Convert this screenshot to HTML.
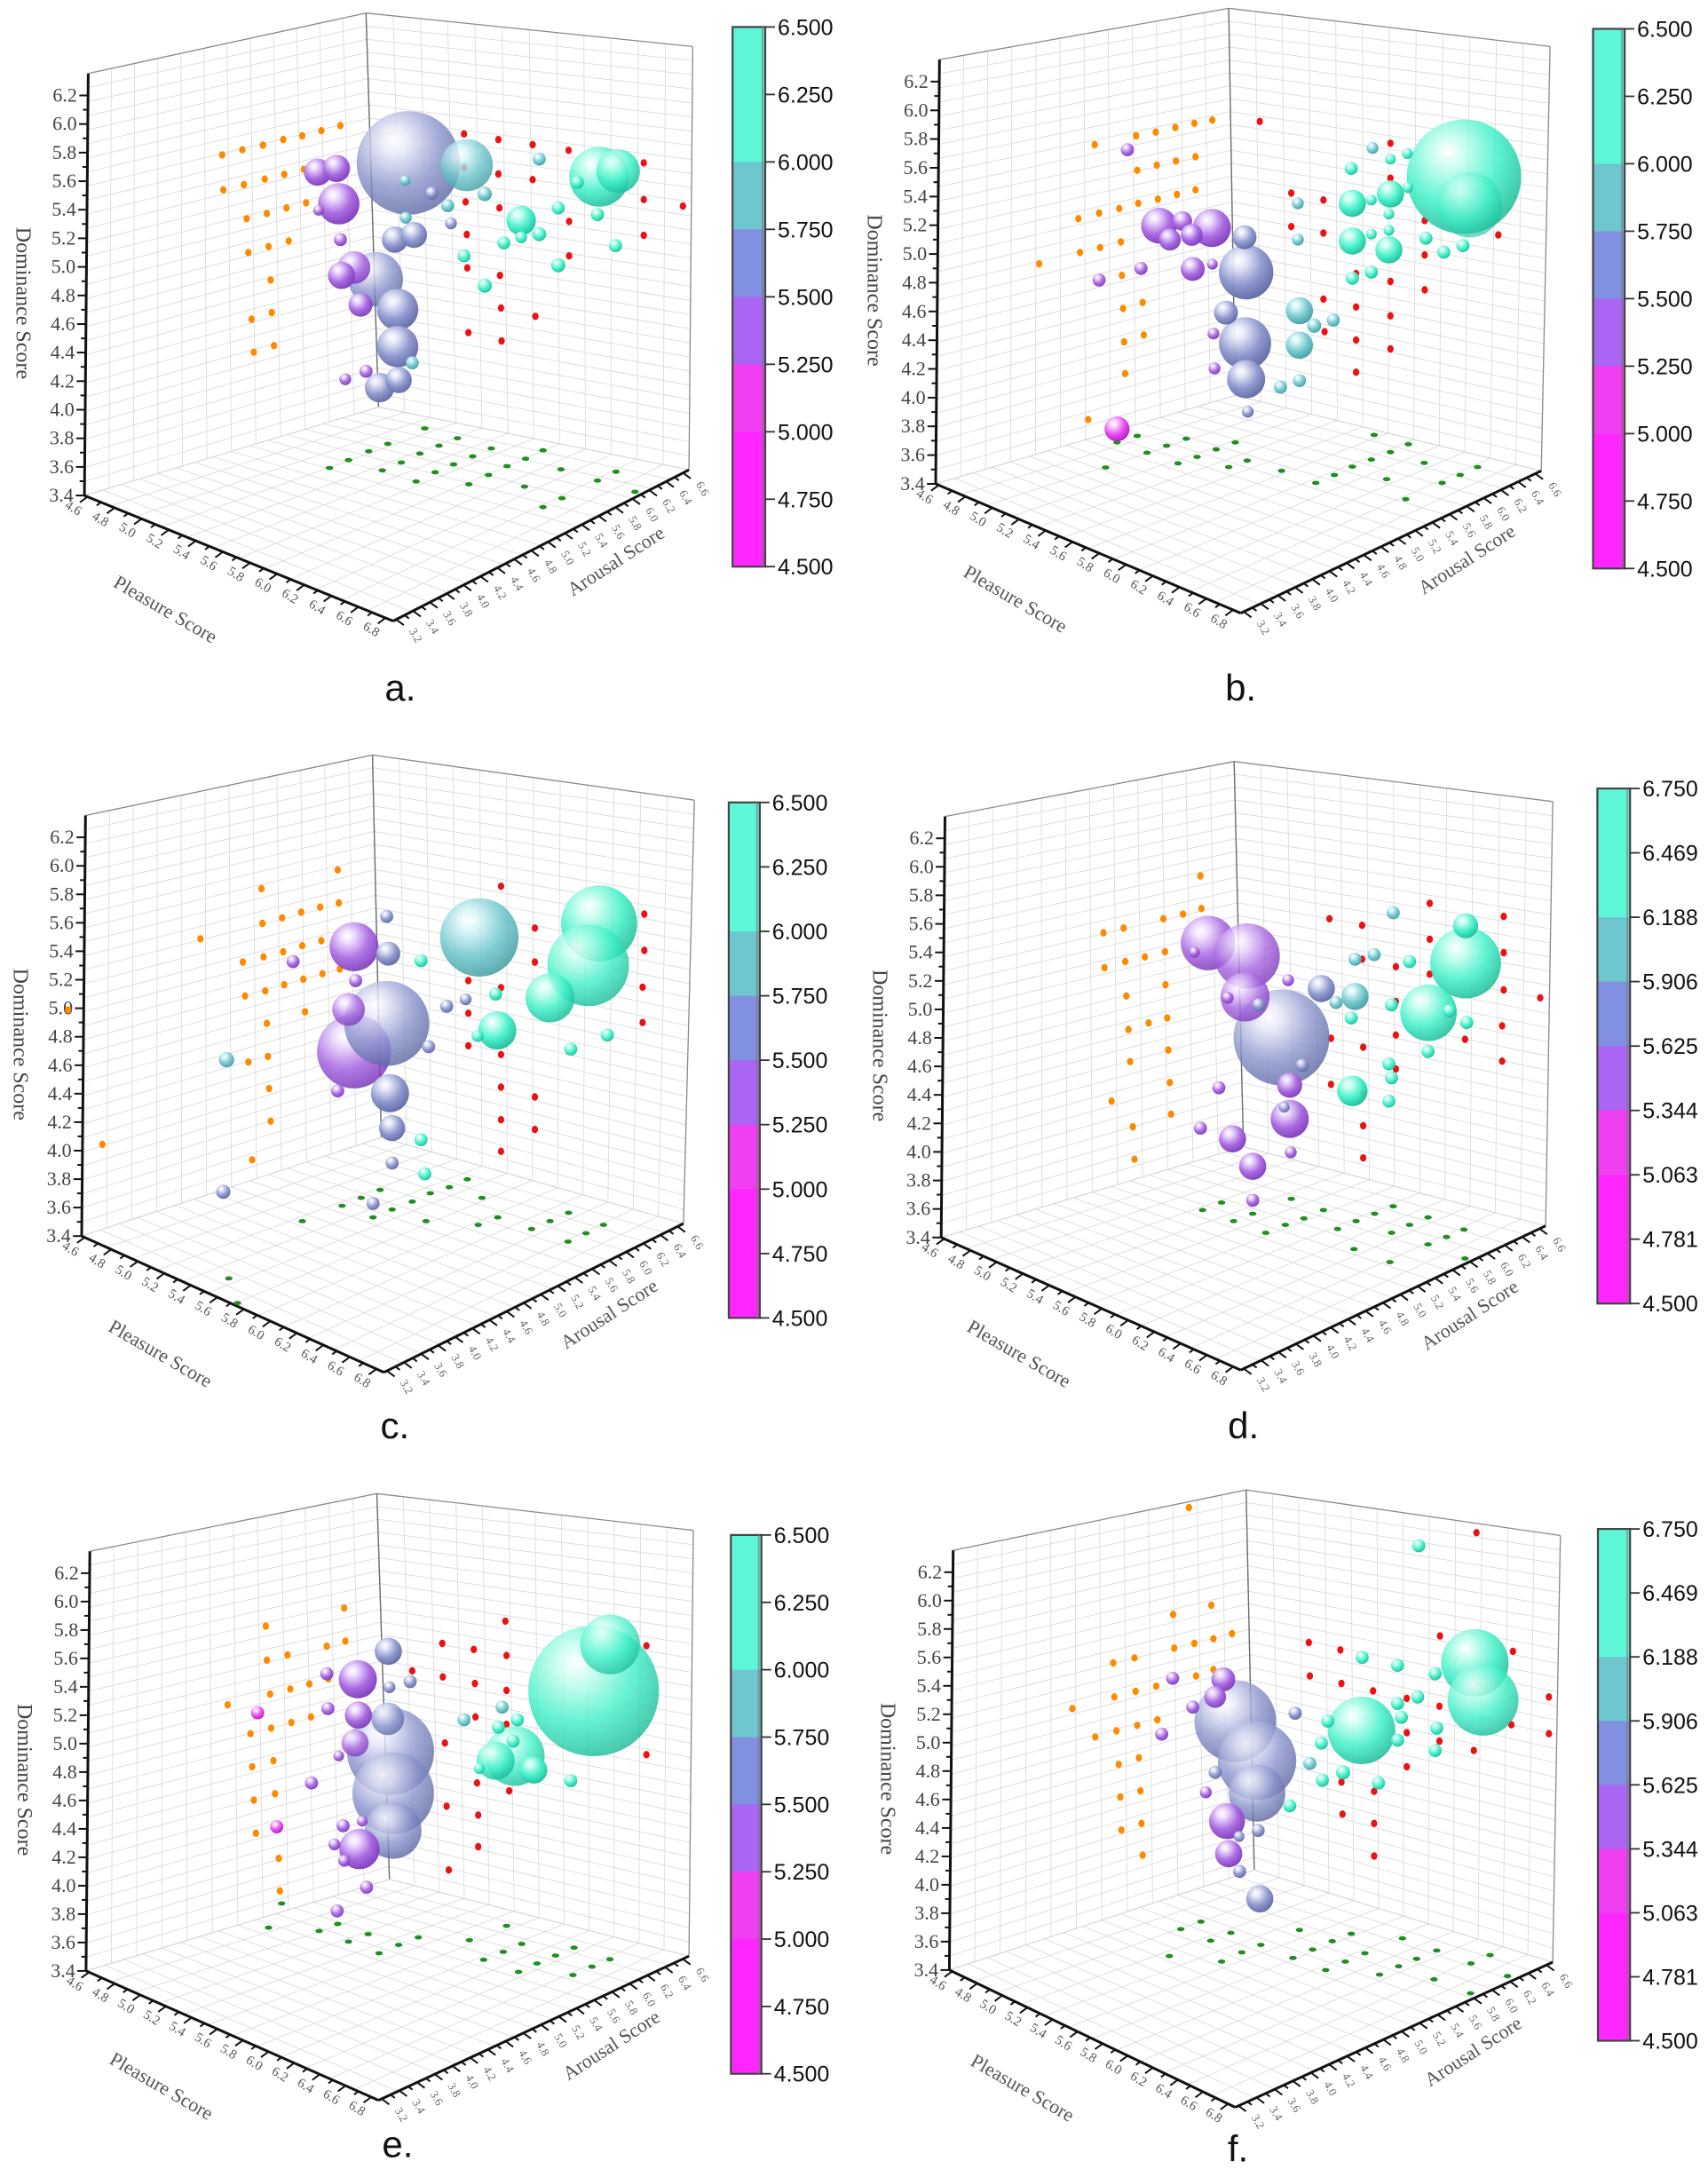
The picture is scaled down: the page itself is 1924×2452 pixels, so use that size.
<!DOCTYPE html>
<html><head><meta charset="utf-8">
<style>
html,body{margin:0;padding:0;background:#fff;}
svg{display:block;}
</style></head>
<body>
<svg id="s" xmlns="http://www.w3.org/2000/svg" width="1924" height="2452" viewBox="0 0 1924 2452">
<defs id="defs"></defs>
</svg>
<script>
(function(){
var NS="http://www.w3.org/2000/svg";
var svg=document.getElementById('s'), defs=document.getElementById('defs');
var SX=0.6135, SY=0.524;
function el(tag,attrs,parent,txt){var e=document.createElementNS(NS,tag);for(var k in attrs)e.setAttribute(k,attrs[k]);if(txt!==undefined)e.textContent=txt;(parent||svg).appendChild(e);return e;}
var COL=[["#3ff0c8","#c8fff0","#18b896"],["#6ec6cc","#d8f6f8","#3e9aa2"],["#8a94cc","#e6e8f8","#5a64a0"],["#a664e0","#eedcff","#7a36b8"],["#e444ee","#ffd6ff","#b010c0"]];
COL.forEach(function(c,i){
  var g=el('radialGradient',{id:'g'+i,cx:'0.38',cy:'0.32',r:'0.72',fx:'0.36',fy:'0.28'},defs);
  el('stop',{offset:'0','stop-color':'#ffffff'},g);
  el('stop',{offset:'0.18','stop-color':c[1]},g);
  el('stop',{offset:'0.6','stop-color':c[0]},g);
  el('stop',{offset:'1','stop-color':c[2]},g);
});
function lerp(a,b,t){return [a[0]+(b[0]-a[0])*t,a[1]+(b[1]-a[1])*t];}
var panels=[
 {ox:0,oy:0,L:[162,158],Lb:[155,1065],B:[672,28],Bb:[695,875],R:[1272,100],Rb:[1265,1010],F:[722,1335],cb:[1345,1405,58,1218],lab:"a.",lp:[735,1479],vals:["6.500","6.250","6.000","5.750","5.500","5.250","5.000","4.750","4.500"],
  sp:[[750,350,95,2,.8],[857,355,48,1,.8],[1100,380,55,0,.85],[1135,368,40,0,.85],[690,600,50,2,.8],[730,665,38,2],[730,745,38,2],[697,833,27,2],[732,817,24,2],[725,515,24,2],[760,505,24,2],[622,438,38,3],[583,370,25,3],[618,362,25,3],[650,575,30,3,.85],[627,592,25,3],[662,655,22,3],[957,474,27,0],[585,452,10,3],[625,515,12,3],[634,815,11,3],[672,798,12,3],[828,480,11,2],[793,415,12,2],[890,417,13,1],[822,442,12,1],[990,342,12,1],[1060,392,12,0],[1025,447,12,0],[1097,461,12,0],[990,503,13,0],[957,510,11,0],[925,522,12,0],[852,550,12,0],[1130,528,12,0],[1025,570,13,0],[890,614,13,0],[745,468,11,1],[744,388,10,1],[757,780,12,1]],
  or:[[408,333],[445,322],[483,312],[520,300],[555,292],[590,281],[625,270],[410,408],[448,397],[486,385],[522,375],[558,364],[453,470],[490,459],[526,447],[562,436],[456,543],[493,530],[530,518],[497,602],[462,686],[499,672],[466,757],[503,743]],
  rd:[[852,288],[915,300],[978,311],[1044,323],[1182,350],[852,360],[915,374],[978,386],[855,434],[917,447],[1045,476],[1182,429],[1254,443],[857,504],[1182,506],[858,576],[918,592],[1045,550],[920,662],[983,680],[860,715],[921,733]],
  gr:[[780,921],[712,954],[806,958],[840,942],[677,970],[771,975],[868,981],[902,964],[997,968],[640,989],[737,994],[833,998],[931,1002],[965,986],[605,1006],[702,1011],[799,1015],[897,1021],[1030,1009],[1131,1014],[764,1035],[861,1041],[963,1046],[1097,1033],[1166,1057],[1032,1071],[997,1090]]},
 {ox:962,oy:0,L:[157,128],Lb:[150,1040],B:[688,18],Bb:[700,850],R:[1278,100],Rb:[1262,1012],F:[710,1318],cb:[1357,1415,62,1222],lab:"b.",lp:[710,1479],vals:["6.500","6.250","6.000","5.750","5.500","5.250","5.000","4.750","4.500"],
  sp:[[1120,380,105,0,.85],[1130,440,60,0,.6],[720,585,50,2],[718,738,48,2],[720,815,35,2],[985,417,25,0],[915,437,25,0],[915,518,25,0],[982,537,25,0],[818,668,25,1],[818,742,25,1],[560,485,33,3],[657,490,35,3],[603,475,18,3],[580,515,20,3],[620,505,20,3],[622,578,22,3],[717,510,22,2],[683,672,22,2],[483,922,23,4],[913,362,12,0],[985,342,10,0],[1016,330,10,0],[1017,403,10,0],[950,430,10,0],[982,460,10,0],[982,495,10,0],[950,503,10,0],[1050,512,12,0],[1083,542,12,0],[1118,528,12,0],[950,585,12,0],[915,598,12,0],[952,318,11,1],[815,437,11,1],[815,515,11,1],[845,700,13,1],[880,688,12,1],[818,818,12,1],[783,832,12,1],[723,885,11,2],[658,568,10,3],[527,577,12,3],[450,602,12,3],[660,717,11,3],[662,792,11,3],[502,322,12,3]],
  or:[[442,311],[518,292],[554,284],[590,274],[625,265],[658,258],[520,366],[556,355],[591,346],[627,337],[412,470],[450,458],[487,448],[522,437],[558,428],[593,418],[627,408],[340,567],[415,543],[452,532],[490,520],[492,592],[494,663],[530,650],[496,735],[532,720],[498,803],[430,902]],
  rd:[[745,261],[985,308],[985,383],[803,415],[862,430],[803,487],[862,501],[1048,474],[1183,505],[1048,548],[922,588],[985,605],[1048,623],[862,643],[922,660],[985,679],[864,713],[922,731],[985,750],[922,800]],
  gr:[[483,951],[520,937],[538,973],[574,958],[610,943],[462,1005],[595,996],[630,982],[665,966],[700,951],[688,1004],[722,990],[785,1012],[848,1038],[882,1021],[915,1003],[950,988],[985,972],[1018,955],[955,935],[978,1030],[1047,995],[1080,1038],[1113,1021],[1145,1004],[1013,1073]]},
 {ox:0,oy:820,L:[157,188],Lb:[150,1092],B:[684,58],Bb:[700,880],R:[1275,155],Rb:[1255,1065],F:[705,1385],cb:[1338,1395,160,1268],lab:"c.",lp:[725,1500],vals:["6.500","6.250","6.000","5.750","5.500","5.250","5.000","4.750","4.500"],
  sp:[[880,450,72,1,.85],[1100,420,70,0,.85],[1080,510,75,0,.8],[1010,580,45,0,.85],[650,695,68,3,.85],[710,635,78,2,.8],[650,470,45,3,.9],[913,650,35,0],[716,785,35,2],[640,605,30,3,.8],[720,860,24,2],[713,485,22,2],[1048,690,12,0],[1115,660,12,0],[877,662,11,0],[910,572,12,0],[773,885,12,0],[780,958,12,0],[773,500,12,0],[416,713,14,1],[710,405,12,2],[820,598,12,2],[855,583,11,2],[787,685,12,2],[720,935,12,2],[685,1022,12,2],[410,997,13,2],[538,502,12,3],[653,543,12,3],[620,780,12,3]],
  or:[[480,345],[620,305],[368,453],[482,420],[518,408],[553,396],[588,385],[622,376],[446,503],[484,492],[520,481],[555,468],[590,457],[624,518],[450,576],[487,565],[522,552],[557,540],[592,528],[125,606],[560,610],[490,635],[456,718],[492,706],[494,775],[497,845],[463,928],[188,895]],
  rd:[[920,340],[1183,400],[982,430],[1183,478],[982,503],[860,543],[920,558],[1180,557],[860,613],[1180,633],[860,683],[920,702],[920,772],[982,793],[920,842],[982,863],[920,910]],
  gr:[[858,970],[825,987],[698,993],[790,1000],[663,1010],[757,1018],[885,1010],[628,1027],[720,1035],[685,1052],[914,1052],[1044,1042],[555,1060],[782,1060],[878,1068],[1010,1060],[976,1077],[1108,1068],[1076,1086],[1043,1104],[420,1183],[436,1236]]},
 {ox:962,oy:820,L:[167,190],Lb:[160,1095],B:[698,72],Bb:[715,900],R:[1283,158],Rb:[1270,1070],F:[710,1380],cb:[1365,1425,130,1237],lab:"d.",lp:[715,1500],vals:["6.750","6.469","6.188","5.906","5.625","5.344","5.063","4.781","4.500"],
  sp:[[785,665,88,2,.8],[650,462,50,3,.85],[722,490,60,3,.8],[718,578,45,3,.8],[1123,505,65,0,.85],[1055,612,52,0,.85],[800,840,35,3],[858,560,25,2],[920,577,25,1],[800,768,23,3],[695,883,25,3],[732,942,25,3],[1123,425,23,0],[915,780,28,0],[743,595,12,2],[823,725,12,2],[790,815,10,2],[732,1015,12,3],[670,773,12,3],[636,860,12,3],[802,912,11,3],[797,542,11,3],[686,580,11,3],[625,482,10,3],[990,397,12,1],[920,497,12,1],[955,487,12,1],[885,590,12,1],[1020,502,12,0],[913,623,12,0],[987,595,12,0],[1125,633,12,0],[1054,695,12,0],[982,722,12,0],[987,752,12,0],[982,802,12,0],[1093,608,12,0]],
  or:[[636,318],[568,410],[604,400],[638,388],[458,440],[495,430],[460,515],[498,502],[534,492],[571,481],[500,576],[572,552],[504,648],[541,634],[575,623],[577,692],[507,717],[580,762],[473,802],[512,857],[582,830],[515,927]],
  rd:[[1057,377],[873,410],[933,424],[1193,405],[1057,454],[1193,483],[933,497],[995,513],[1057,529],[1193,563],[1260,580],[995,588],[995,660],[1190,640],[876,667],[935,686],[1122,669],[1190,716],[995,733],[876,766],[935,786],[935,855],[935,924]],
  gr:[[675,1020],[803,1012],[990,1028],[640,1036],[732,1044],[862,1036],[956,1044],[697,1060],[826,1054],[922,1060],[1054,1052],[792,1068],[888,1077],[1020,1068],[756,1085],[987,1085],[1120,1078],[1088,1094],[1054,1110],[918,1120],[1122,1140],[984,1148]]},
 {ox:0,oy:1632,L:[165,220],Lb:[158,1122],B:[692,96],Bb:[715,925],R:[1273,175],Rb:[1265,1090],F:[695,1400],cb:[1342,1398,185,1343],lab:"e.",lp:[730,1495],vals:["6.500","6.250","6.000","5.750","5.500","5.250","5.000","4.750","4.500"],
  sp:[[1090,520,120,0,.8],[1120,420,55,0,.75],[717,650,80,2,.8],[722,740,75,2,.8],[722,820,52,2,.8],[945,660,55,0,.8],[910,670,35,0,.85],[657,495,35,3],[660,860,37,3],[980,690,25,0],[713,435,25,2],[712,580,30,2,.8],[658,572,25,3],[652,632,25,3,.8],[1048,713,12,0],[880,687,10,0],[915,598,12,0],[950,582,12,0],[942,628,12,0],[922,555,12,1],[852,582,12,1],[715,512,11,2],[753,500,12,2],[600,483,12,3],[602,558,12,3],[572,718,12,3],[622,660,10,3],[630,810,12,3],[614,850,11,3],[632,885,11,3],[665,800,10,3],[673,942,12,3],[619,993,12,3],[473,567,12,4],[508,812,12,4]],
  or:[[488,381],[632,342],[634,413],[490,454],[528,443],[600,424],[496,527],[533,516],[568,505],[603,494],[418,550],[460,612],[498,600],[535,588],[571,576],[463,683],[502,670],[466,755],[505,741],[470,826],[512,880],[514,950]],
  rd:[[928,370],[812,418],[870,431],[930,444],[1187,423],[757,477],[813,490],[872,504],[930,519],[873,576],[930,592],[817,632],[876,718],[935,735],[1187,657],[820,768],[878,787],[878,855],[824,905]],
  gr:[[517,977],[620,1021],[493,1029],[586,1036],[676,1043],[768,1050],[640,1059],[732,1066],[862,1056],[930,1025],[958,1064],[924,1081],[696,1084],[1054,1072],[1020,1089],[888,1098],[986,1106],[1120,1097],[1087,1113],[952,1124],[1052,1131]]},
 {ox:962,oy:1632,L:[182,218],Lb:[175,1120],B:[720,88],Bb:[735,905],R:[1297,186],Rb:[1283,1103],F:[700,1415],cb:[1366,1425,172,1272],lab:"f.",lp:[705,1505],vals:["6.750","6.469","6.188","5.906","5.625","5.344","5.063","4.781","4.500"],
  sp:[[700,585,75,2,.8],[740,670,72,2,.8],[740,740,52,2,.8],[1140,460,62,0,.85],[1155,540,65,0,.8],[932,605,62,0,.85],[685,800,33,3],[688,870,25,3],[678,495,22,3],[663,533,20,3],[745,967,25,2],[810,568,12,2],[663,695,12,2],[742,820,12,2],[707,833,10,2],[708,908,12,2],[585,493,12,3],[622,555,12,3],[565,613,12,3],[646,738,11,3],[1037,208,12,0],[933,448,12,0],[998,465,12,0],[1067,483,12,0],[1035,533,12,0],[998,547,12,0],[1005,577,12,0],[870,585,12,0],[1070,600,12,0],[858,632,12,0],[998,626,12,0],[1067,648,12,0],[898,695,13,0],[860,712,12,0],[963,718,12,0],[800,767,12,0],[837,676,12,1]],
  or:[[615,126],[656,336],[586,356],[694,397],[660,408],[588,428],[625,418],[476,460],[515,449],[555,510],[628,488],[660,474],[401,558],[478,533],[517,521],[557,582],[520,594],[482,606],[443,619],[486,678],[523,664],[489,748],[526,735],[491,819],[528,805],[530,873]],
  rd:[[1143,180],[1076,402],[835,416],[893,432],[1210,435],[837,488],[895,504],[953,520],[1015,536],[1276,533],[1075,553],[1207,593],[1015,610],[1276,612],[1075,628],[1138,648],[1015,683],[895,716],[955,736],[897,785],[955,805],[955,875]],
  gr:[[637,1016],[600,1032],[692,1040],[818,1034],[913,1042],[655,1057],[747,1066],[878,1058],[1007,1052],[712,1082],[842,1076],[938,1084],[1070,1078],[579,1090],[675,1102],[806,1094],[902,1102],[1033,1096],[1168,1088],[866,1120],[1000,1112],[1133,1106],[965,1130],[1065,1140],[1200,1133],[1132,1170]]}
];
var BANDS=["#5df7d7","#5df7d7","#6ec7cf","#8290e2","#aa66f2","#f03ff0","#ff26ff","#ff26ff"];
panels.forEach(function(p){
  var g=el('g',{},svg);
  function P(a){return [p.ox+a[0]*SX,p.oy+a[1]*SY];}
  function line(a,b,st,w){var A=P(a),B=P(b);el('line',{x1:A[0].toFixed(1),y1:A[1].toFixed(1),x2:B[0].toFixed(1),y2:B[1].toFixed(1),stroke:st,'stroke-width':w},g);}
  var grid='#dcdcdc',gw=0.9,i;
  for(i=1;i<12;i++){var s=i/12;line(lerp(p.Lb,p.Bb,s),lerp(p.L,p.B,s),grid,gw);}
  for(i=1;i<30;i++){var t=i/30;line(lerp(p.Lb,p.L,t),lerp(p.Bb,p.B,t),grid,gw);}
  for(i=1;i<12;i++){var s=i/12;line(lerp(p.Bb,p.Rb,s),lerp(p.B,p.R,s),grid,gw);}
  for(i=1;i<30;i++){var t=i/30;line(lerp(p.Bb,p.B,t),lerp(p.Rb,p.R,t),grid,gw);}
  for(i=1;i<16;i++){var s=i/16;line(lerp(p.Lb,p.Bb,s),lerp(p.F,p.Rb,s),grid,gw);}
  for(i=1;i<12;i++){var s=i/12;line(lerp(p.Lb,p.F,s),lerp(p.Bb,p.Rb,s),grid,gw);}
  line(p.L,p.B,'#8a8a8a',1.3);line(p.B,p.R,'#8a8a8a',1.3);line(p.R,p.Rb,'#8a8a8a',1.3);
  line(p.B,p.Bb,'#6a6a6a',1.4);line(p.Lb,p.Bb,'#cfcfcf',1);line(p.Bb,p.Rb,'#cfcfcf',1);
  line(p.Lb,p.L,'#111',3);line(p.Lb,p.F,'#111',3);line(p.F,p.Rb,'#111',3);
  var z62=lerp(p.Lb,p.L,0.948);
  for(i=0;i<=28;i++){var v=3.4+i*0.1,t=i/28,pt=lerp(p.Lb,z62,t),maj=(i%2==0);
    line(pt,[pt[0]-(maj?16:9),pt[1]],'#111',2);
    if(maj){var A=P([pt[0]-20,pt[1]]);el('text',{x:A[0].toFixed(1),y:(A[1]+7).toFixed(1),'font-family':'Liberation Serif, serif','font-size':'22','text-anchor':'end',fill:'#444'},g,v.toFixed(1));}
  }
  for(i=0;i<=22;i++){var t=0.01+i/22*0.965,pt=lerp(p.Lb,p.F,t),maj=(i%2==0);
    line(pt,[pt[0]+(maj?-14:-8),pt[1]+(maj?12:7)],'#111',2);
    if(maj){var v=(4.6+i*0.1).toFixed(1);var A=P([pt[0]-30,pt[1]+32]);
      el('text',{x:A[0].toFixed(1),y:A[1].toFixed(1),'font-family':'Liberation Serif, serif','font-size':'15','text-anchor':'middle',fill:'#555',transform:'rotate(32 '+A[0].toFixed(1)+' '+A[1].toFixed(1)+')'},g,v);}
  }
  for(i=0;i<=34;i++){var t=0.01+i/34*0.97,pt=lerp(p.F,p.Rb,t),maj=(i%2==0);
    line(pt,[pt[0]+(maj?14:8),pt[1]+(maj?12:7)],'#111',2);
    if(maj){var v=(3.2+(i/2)*0.2).toFixed(1);var A=P([pt[0]+30,pt[1]+38]);
      el('text',{x:A[0].toFixed(1),y:A[1].toFixed(1),'font-family':'Liberation Serif, serif','font-size':'13','text-anchor':'middle',fill:'#666',transform:'rotate(60 '+A[0].toFixed(1)+' '+A[1].toFixed(1)+')'},g,v);}
  }
  var dz=P([p.Lb[0]-125,(p.L[1]+p.Lb[1])/2+40]);
  el('text',{x:dz[0].toFixed(1),y:dz[1].toFixed(1),'font-family':'Liberation Serif, serif','font-size':'24','text-anchor':'middle',fill:'#444',transform:'rotate(90 '+dz[0].toFixed(1)+' '+dz[1].toFixed(1)+')'},g,'Dominance Score');
  var pm=lerp(p.Lb,p.F,0.34);var pp=P([pm[0]-50,pm[1]+165]);
  el('text',{x:pp[0].toFixed(1),y:pp[1].toFixed(1),'font-family':'Liberation Serif, serif','font-size':'22','text-anchor':'middle',fill:'#555',transform:'rotate(30 '+pp[0].toFixed(1)+' '+pp[1].toFixed(1)+')'},g,'Pleasure Score');
  var am=lerp(p.F,p.Rb,0.7);var ap=P([am[0]+35,am[1]+110]);
  el('text',{x:ap[0].toFixed(1),y:ap[1].toFixed(1),'font-family':'Liberation Serif, serif','font-size':'22','text-anchor':'middle',fill:'#555',transform:'rotate(-33 '+ap[0].toFixed(1)+' '+ap[1].toFixed(1)+')'},g,'Arousal Score');
  p.or.forEach(function(d){var A=P(d);el('ellipse',{cx:A[0].toFixed(1),cy:A[1].toFixed(1),rx:3.6,ry:4.2,fill:'#ff8a00'},g);});
  p.rd.forEach(function(d){var A=P(d);el('ellipse',{cx:A[0].toFixed(1),cy:A[1].toFixed(1),rx:3.6,ry:4.2,fill:'#ee1111'},g);});
  p.gr.forEach(function(d){var A=P(d);el('ellipse',{cx:A[0].toFixed(1),cy:A[1].toFixed(1),rx:4.2,ry:2.4,fill:'#1f8f1f'},g);});
  p.sp.forEach(function(d){var A=P(d);var r=d[2]*SX;
    el('circle',{cx:A[0].toFixed(1),cy:A[1].toFixed(1),r:r.toFixed(1),fill:'url(#g'+d[3]+')','fill-opacity':(d[4]||0.95)},g);});
  var c=p.cb,x0=p.ox+c[0]*SX,x1=p.ox+c[1]*SX,y0=p.oy+c[2]*SY,y1=p.oy+c[3]*SY,h=(y1-y0)/8;
  for(i=0;i<8;i++)el('rect',{x:x0.toFixed(1),y:(y0+i*h).toFixed(1),width:(x1-x0).toFixed(1),height:(h+0.6).toFixed(1),fill:BANDS[i]},g);
  el('rect',{x:x0.toFixed(1),y:y0.toFixed(1),width:(x1-x0).toFixed(1),height:(y1-y0).toFixed(1),fill:'none',stroke:'#444','stroke-width':2.2},g);
  el('line',{x1:(x1-3).toFixed(1),y1:y0,x2:(x1-3).toFixed(1),y2:y1,stroke:'#777','stroke-width':2,'stroke-opacity':0.6},g);
  for(i=0;i<=8;i++){var yy=y0+i*h;
    el('line',{x1:x1.toFixed(1),y1:yy.toFixed(1),x2:(x1+11).toFixed(1),y2:yy.toFixed(1),stroke:'#333','stroke-width':1.8},g);
    el('text',{x:(x1+14).toFixed(1),y:(yy+9).toFixed(1),'font-family':'Liberation Sans, Arial, sans-serif','font-size':'25',fill:'#111'},g,p.vals[i]);}
  var L=P(p.lp);
  el('text',{x:L[0].toFixed(1),y:(L[1]+14).toFixed(1),'font-family':'Liberation Sans, Arial, sans-serif','font-size':'42','text-anchor':'middle',fill:'#111'},g,p.lab);
});
})();
</script>
</body></html>
